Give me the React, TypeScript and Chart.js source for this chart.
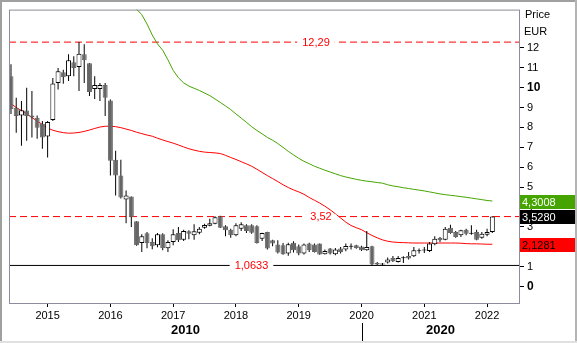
import React, { useEffect, useRef } from 'react';
import { Chart, registerables } from 'chart.js';

Chart.register(...registerables);

const FONT = '"Liberation Sans", Arial, sans-serif';

// ---- data (monthly candles, first candle = June 2014) ----
const startYear = 2014;
const startMonth = 6;

const opens = [
  10.58, 8.99, 8.60, 8.85, 8.60, 8.49, 8.19, 7.54, 8.38, 10.24,
  10.78, 10.58, 11.28, 11.04, 11.68, 11.23, 9.93, 9.93, 10.13, 9.36,
  6.38, 5.58, 4.38, 4.53, 3.28, 2.19, 2.68, 2.24, 2.08, 2.63,
  1.93, 2.24, 2.69, 2.36, 2.78, 2.58, 2.71, 2.96, 3.06, 3.16,
  3.53, 3.03, 2.86, 2.58, 2.91, 3.08, 3.08, 3.03, 2.41, 2.74,
  2.33, 2.11, 2.08, 1.66, 2.21, 2.03, 1.66, 2.16, 2.11, 2.16,
  1.63, 1.91, 1.63, 1.91, 1.86, 2.00, 2.08, 2.01, 1.83, 2.03,
  1.19, 1.11, 1.21, 1.44, 1.24, 1.43, 1.54, 1.53, 1.78, 1.81,
  1.79, 2.13, 2.44, 2.36, 2.96, 2.74, 2.58, 2.86, 2.66, 2.74,
  2.46, 2.61, 2.74,
];
const highs = [
  11.18, 9.49, 9.33, 9.99, 9.83, 8.60, 8.33, 8.33, 10.49, 10.99,
  10.90, 11.68, 11.58, 12.29, 12.18, 11.24, 10.58, 10.24, 10.24, 9.41,
  6.83, 6.38, 4.83, 4.53, 3.29, 2.63, 2.74, 2.43, 2.69, 2.68,
  2.33, 2.88, 2.99, 2.86, 2.83, 3.13, 2.99, 3.16, 3.41, 3.53,
  3.56, 3.08, 2.91, 3.19, 3.24, 3.13, 3.13, 3.08, 2.71, 2.76,
  2.36, 2.33, 2.19, 2.20, 2.28, 2.11, 2.16, 2.21, 2.16, 2.17,
  1.86, 1.94, 1.94, 1.99, 2.16, 2.16, 2.10, 2.05, 2.80, 2.05,
  1.24, 1.19, 1.46, 1.54, 1.54, 1.53, 1.74, 1.99, 1.91, 1.99,
  2.24, 2.53, 2.49, 2.99, 3.11, 2.79, 2.86, 2.91, 3.08, 2.86,
  2.74, 2.91, 3.53,
];
const lows = [
  8.68, 7.74, 7.08, 7.33, 7.50, 7.43, 6.93, 6.49, 8.33, 9.91,
  10.20, 10.33, 10.58, 9.83, 10.24, 9.58, 9.43, 9.33, 8.58, 5.58,
  4.58, 4.43, 3.19, 2.99, 2.05, 1.74, 1.93, 1.88, 1.98, 1.83,
  1.74, 2.08, 2.24, 2.29, 2.38, 2.36, 2.63, 2.91, 3.03, 3.13,
  2.94, 2.53, 2.46, 2.53, 2.79, 2.69, 2.66, 2.17, 2.29, 1.86,
  2.03, 1.66, 1.60, 1.55, 1.71, 1.58, 1.61, 1.74, 1.71, 1.60,
  1.61, 1.61, 1.58, 1.66, 1.78, 1.86, 1.90, 1.79, 1.80, 1.0633,
  1.08, 1.07, 1.16, 1.24, 1.21, 1.19, 1.36, 1.49, 1.66, 1.69,
  1.74, 2.08, 2.24, 2.33, 2.66, 2.46, 2.49, 2.58, 2.61, 2.33,
  2.41, 2.53, 2.69,
];
const closes = [
  8.93, 8.58, 8.87, 8.58, 8.50, 7.99, 7.49, 8.28, 10.21, 10.83,
  10.53, 11.38, 10.99, 11.71, 11.38, 9.78, 10.13, 10.13, 9.49, 6.33,
  5.58, 4.48, 4.58, 3.48, 2.08, 2.53, 2.18, 2.03, 2.63, 1.93,
  2.24, 2.63, 2.33, 2.79, 2.66, 2.78, 2.91, 3.09, 3.19, 3.49,
  2.96, 2.83, 2.58, 3.08, 3.13, 2.79, 2.71, 2.19, 2.69, 1.91,
  2.16, 1.71, 1.63, 2.13, 1.83, 1.66, 2.11, 1.83, 1.74, 1.61,
  1.79, 1.66, 1.86, 1.74, 2.04, 2.03, 1.94, 1.83, 1.99, 1.11,
  1.11, 1.13, 1.36, 1.28, 1.44, 1.46, 1.41, 1.83, 1.81, 1.85,
  2.16, 2.41, 2.33, 2.91, 2.69, 2.49, 2.83, 2.66, 2.70, 2.36,
  2.66, 2.74, 3.528,
];

// moving averages
const redMA = [
  9.20, 9.00, 8.85, 8.70, 8.50, 8.32, 8.15, 7.97, 7.86, 7.79,
  7.74, 7.71, 7.72, 7.75, 7.80, 7.87, 7.95, 8.02, 8.06, 8.06,
  8.04, 7.99, 7.92, 7.85, 7.76, 7.69, 7.62, 7.56, 7.46, 7.37,
  7.29, 7.21, 7.12, 7.02, 6.93, 6.86, 6.80, 6.76, 6.74, 6.72,
  6.69, 6.60, 6.49, 6.39, 6.28, 6.17, 6.05, 5.90, 5.74, 5.58,
  5.43, 5.28, 5.12, 4.98, 4.86, 4.76, 4.64, 4.48, 4.34, 4.20,
  4.04, 3.86, 3.66, 3.45, 3.24, 3.07, 2.96, 2.86, 2.71, 2.57,
  2.45, 2.35, 2.28, 2.24, 2.22, 2.21, 2.20, 2.19, 2.19, 2.19,
  2.19, 2.19, 2.19, 2.19, 2.19, 2.19, 2.18, 2.16, 2.15, 2.15,
  2.14, 2.13, 2.1281,
];
const greenStart = 23;
const greenMA = [
  14.35, 13.95, 13.67, 13.20, 12.65, 12.20, 11.88,
  11.40, 10.87, 10.50, 10.24, 10.08, 9.97, 9.86, 9.73, 9.60, 9.43,
  9.26, 9.08, 8.90, 8.68, 8.47, 8.26, 8.04, 7.85, 7.68, 7.50,
  7.36, 7.19, 7.00, 6.80, 6.62, 6.45, 6.30, 6.18, 6.05, 5.95,
  5.85, 5.76, 5.67, 5.58, 5.51, 5.45, 5.39, 5.34, 5.30, 5.27,
  5.23, 5.20, 5.12, 5.06, 5.02, 4.97, 4.93, 4.89, 4.85, 4.81,
  4.76, 4.71, 4.66, 4.62, 4.59, 4.56, 4.52, 4.49, 4.45, 4.41,
  4.37, 4.33, 4.3008,
];

const yearLabels = ['2015', '2016', '2017', '2018', '2019', '2020', '2021', '2022'];
const decadeLabels = ['2010', '2020'];
const decadeBoundary = '2020-01';
const priceTicks = [0, 1, 2, 3, 4, 5, 6, 7, 8, 9, 10, 11, 12];
const levelValues = [12.29, 3.52, 1.0633];
const levelTexts = ['12,29', '3,52', '1,0633'];

// ---- styles / layout ----
const X_MIN = -0.38;
const X_MAX = 97.1;
const Y_MIN = -0.825;
const Y_MAX = 13.925;
const levelStyles = [
  { line: '#ff0000', dash: [7, 4], text: '#ff0000', labelAt: 58.3 },
  { line: '#ff0000', dash: [7, 4], text: '#ff0000', labelAt: 59.25 },
  { line: '#000000', dash: [] as number[], text: '#ff0000', labelAt: 45.97 },
];
const RED = '#ff0000';
const GREEN = '#46a400';
const BODY_DOWN = '#666666';

const months: string[] = opens.map((_, i) => {
  const m = startMonth - 1 + i;
  return `${startYear + Math.floor(m / 12)}-${String((m % 12) + 1).padStart(2, '0')}`;
});
const yearIdx = yearLabels.map((y) => months.indexOf(`${y}-01`));

const fmt = (v: number) => v.toFixed(4).replace('.', ',');

const overlay = {
  id: 'overlay',
  afterDatasetsDraw(chart: any) {
    const { ctx } = chart;
    const xs = chart.scales.x;
    const ys = chart.scales.y;
    ctx.save();
    ctx.font = `11px ${FONT}`;
    ctx.textAlign = 'center';
    ctx.textBaseline = 'middle';
    levelValues.forEach((v, k) => {
      const py = ys.getPixelForValue(v);
      const px = xs.getPixelForValue(levelStyles[k].labelAt);
      const w = ctx.measureText(levelTexts[k]).width;
      ctx.fillStyle = '#ffffff';
      ctx.fillRect(px - w / 2 - 5, py - 2, w + 10, 4);
      ctx.fillStyle = levelStyles[k].text;
      ctx.fillText(levelTexts[k], px, py + 0.5);
    });
    ctx.restore();
  },
  afterDraw(chart: any) {
    const { ctx, chartArea: a, width, height } = chart;
    const xs = chart.scales.x;
    const ys = chart.scales.y;
    ctx.save();
    // plot frame
    ctx.strokeStyle = '#8c8c9c';
    ctx.lineWidth = 1;
    ctx.strokeRect(a.left + 0.5, a.top + 0.5, a.right - a.left, a.bottom - a.top);

    // last-value boxes on the price axis
    const boxes = [
      { value: greenMA[greenMA.length - 1], bg: GREEN, fg: '#ffffff' },
      { value: closes[closes.length - 1], bg: '#000000', fg: '#ffffff' },
      { value: redMA[redMA.length - 1], bg: RED, fg: '#000000' },
    ];
    ctx.font = `11px ${FONT}`;
    ctx.textAlign = 'left';
    ctx.textBaseline = 'middle';
    boxes.forEach((b) => {
      const py = ys.getPixelForValue(b.value);
      ctx.fillStyle = b.bg;
      ctx.fillRect(a.right + 1, Math.round(py - 6.5), width - a.right - 3, 14);
      ctx.fillStyle = b.fg;
      ctx.fillText(fmt(b.value), a.right + 3, Math.round(py - 6.5) + 7.5);
    });

    // axis header
    ctx.fillStyle = '#000000';
    ctx.fillText('Price', a.right + 6, 15);
    ctx.fillText('EUR', a.right + 5, 32);

    // decades
    const bx = Math.round(xs.getPixelForValue(months.indexOf(decadeBoundary)));
    ctx.fillRect(bx, 323, 1, height - 323);
    ctx.font = `bold 13px ${FONT}`;
    ctx.textAlign = 'center';
    ctx.fillText(decadeLabels[0], (a.left + bx) / 2, 330);
    ctx.fillText(decadeLabels[1], (bx + a.right) / 2, 330);

    // outer window frame
    ctx.fillStyle = '#a0a0a0';
    ctx.fillRect(0, 0, width, 2);
    ctx.fillRect(0, 0, 2, height);
    ctx.fillStyle = '#b4b4b4';
    ctx.fillRect(width - 2, 0, 2, height);
    ctx.fillStyle = '#e0e0e0';
    ctx.fillRect(0, height - 2, width, 2);
    ctx.restore();
  },
};

export default function App() {
  const ref = useRef<HTMLCanvasElement>(null);
  useEffect(() => {
    const canvas = ref.current!;
    Chart.defaults.font.family = FONT;
    Chart.defaults.color = '#000';
    const idx = opens.map((_, i) => i);
    const up = idx.map((i) => closes[i] >= opens[i]);

    const datasets: any[] = [
      {
        type: 'bar',
        label: 'body',
        data: idx.map((i) => ({ x: i, y: [opens[i], closes[i]] })),
        backgroundColor: up.map((u) => (u ? '#ffffff' : BODY_DOWN)),
        borderColor: up.map((u) => (u ? '#000000' : BODY_DOWN)),
        borderWidth: 1,
        borderSkipped: false,
        barThickness: 5,
        maxBarThickness: 5,
        minBarLength: 1,
        grouped: false,
        inflateAmount: 0,
        order: 0,
      },
      {
        type: 'bar',
        label: 'wick',
        data: idx.map((i) => ({ x: i, y: [lows[i], highs[i]] })),
        backgroundColor: '#000000',
        borderWidth: 0,
        barThickness: 1,
        maxBarThickness: 1,
        grouped: false,
        inflateAmount: 0,
        order: 1,
      },
      {
        type: 'line',
        label: 'MA red',
        data: redMA.map((v, i) => ({ x: i, y: v })),
        borderColor: RED,
        borderWidth: 1,
        pointRadius: 0,
        tension: 0,
        order: 2,
      },
      {
        type: 'line',
        label: 'MA green',
        data: greenMA.map((v, k) => ({ x: greenStart + k, y: v })),
        borderColor: GREEN,
        borderWidth: 1,
        pointRadius: 0,
        tension: 0,
        order: 3,
      },
      ...levelValues.map((v, k) => ({
        type: 'line',
        label: levelTexts[k],
        data: [
          { x: X_MIN, y: v },
          { x: X_MAX, y: v },
        ],
        borderColor: levelStyles[k].line,
        borderDash: levelStyles[k].dash,
        borderWidth: 1,
        pointRadius: 0,
        order: 4,
      })),
    ];

    const chart = new Chart(canvas, {
      type: 'bar',
      data: { datasets },
      options: {
        animation: false,
        responsive: false,
        maintainAspectRatio: false,
        events: [],
        layout: { padding: { left: 9, top: 8, right: 0, bottom: 0 } },
        plugins: { legend: { display: false }, tooltip: { enabled: false } },
        scales: {
          x: {
            type: 'linear',
            min: X_MIN,
            max: X_MAX,
            offset: false,
            afterFit: (s: any) => {
              s.height = 40;
            },
            afterBuildTicks: (s: any) => {
              s.ticks = yearIdx.map((v) => ({ value: v }));
            },
            ticks: {
              autoSkip: false,
              maxRotation: 0,
              padding: 2,
              color: '#000',
              font: { family: FONT, size: 11 },
              callback: (v: any) => {
                const k = yearIdx.indexOf(Number(v));
                return k >= 0 ? yearLabels[k] : '';
              },
            },
            grid: { drawOnChartArea: false, drawTicks: true, tickLength: 4, color: '#000', offset: false },
            border: { display: false },
          },
          y: {
            type: 'linear',
            position: 'right',
            min: Y_MIN,
            max: Y_MAX,
            afterFit: (s: any) => {
              s.width = 58;
            },
            afterBuildTicks: (s: any) => {
              s.ticks = priceTicks.map((v) => ({ value: v }));
            },
            ticks: {
              autoSkip: false,
              padding: 3,
              color: '#000',
              font: (c: any) =>
                c.tick && c.tick.value % 10 === 0
                  ? { family: FONT, size: 12, weight: 'bold' }
                  : { family: FONT, size: 11 },
              callback: (v: any) => String(v),
            },
            grid: { drawOnChartArea: false, drawTicks: true, tickLength: 5, color: '#000' },
            border: { display: false },
          },
        },
      },
      plugins: [overlay],
    } as any);
    return () => chart.destroy();
  }, []);

  return (
    <div style={{ position: 'fixed', left: 0, top: 0, width: 577, height: 343, background: '#ffffff' }}>
      <canvas ref={ref} width={577} height={343} style={{ display: 'block', width: 577, height: 343 }} />
    </div>
  );
}
